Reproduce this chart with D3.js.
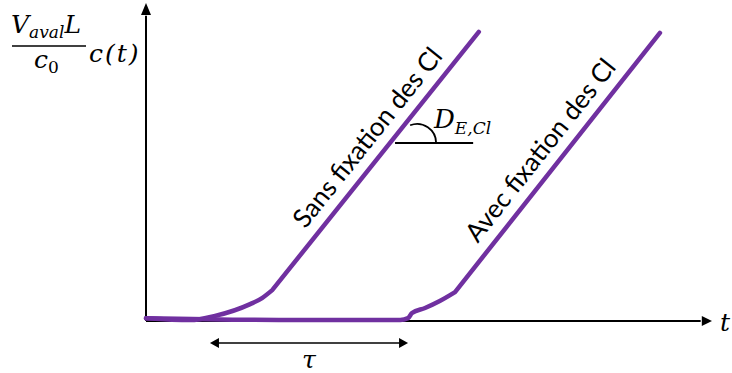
<!DOCTYPE html>
<head>
    <meta charset="utf-8">
    <style type="text/css">
        body { margin: 0; background: #ffffff; }
        .math { font-family: "DejaVu Serif", serif; font-style: italic; }
        .lbl { font-family: Lato, "Open Sans", sans-serif; }
    </style>
    <script src="https://d3js.org/d3.v7.min.js"></script>
</head>
<body>
    <div id="chart">
        <script>
            const width = 732, height = 373;

            // curve "Sans fixation des Cl" (data units)
            const sansX = [0, 0.78, 1.22, 1.84, 2.05, 2.23, 5.88];
            const sansY = [0.09, 0.03, 0.16, 0.53, 0.72, 0.97, 9.09];
            // curve "Avec fixation des Cl"
            const avecX = [0, 2.72, 4.49, 4.63, 4.70, 4.93, 5.19, 5.46, 9.08];
            const avecY = [0.09, 0.03, 0.03, 0.09, 0.25, 0.41, 0.63, 0.91, 9.06];
            const labels = ["Sans fixation des Cl", "Avec fixation des Cl"];
            // tau = delay between the two curves
            const tauRange = [1.13, 4.63];

            const purple = "#7030a0";

            const x = d3.scaleLinear().domain([0, 10]).range([146, 712]);
            const y = d3.scaleLinear().domain([0, 10]).range([321, 3]);

            const svg = d3.select("#chart")
                .append("svg")
                .attr("width", width)
                .attr("height", height);

            // axes
            svg.append("line")
                .attr("x1", x(0)).attr("y1", y(0))
                .attr("x2", x(0)).attr("y2", y(9.6))
                .attr("stroke", "#000").attr("stroke-width", 2);
            svg.append("path")
                .attr("d", `M${x(0)},${y(10)} L${x(0) - 5},${y(9.62)} L${x(0) + 5},${y(9.62)} Z`)
                .attr("fill", "#000");
            svg.append("line")
                .attr("x1", x(0)).attr("y1", y(0))
                .attr("x2", x(9.8)).attr("y2", y(0))
                .attr("stroke", "#000").attr("stroke-width", 2);
            svg.append("path")
                .attr("d", `M${x(10)},${y(0)} L${x(9.82)},${y(0) - 5} L${x(9.82)},${y(0) + 5} Z`)
                .attr("fill", "#000");

            svg.append("text").attr("class", "math")
                .attr("x", 720).attr("y", 331)
                .attr("font-size", 25).text("t");

            // y label: Vaval L / c0 * c(t)
            const yl = svg.append("g").attr("class", "math").attr("font-size", 25);
            const num = yl.append("text").attr("x", 11).attr("y", 33);
            num.append("tspan").text("V");
            num.append("tspan").attr("font-size", 17).attr("dy", 5).text("aval");
            num.append("tspan").attr("dy", -5).text("L");
            yl.append("line")
                .attr("x1", 12).attr("x2", 86).attr("y1", 46).attr("y2", 46)
                .attr("stroke", "#000").attr("stroke-width", 1.5);
            const den = yl.append("text").attr("x", 34).attr("y", 68);
            den.append("tspan").text("c");
            den.append("tspan").attr("font-size", 17).attr("font-style", "normal").attr("dy", 5).text("0");
            yl.append("text").attr("x", 89).attr("y", 62).attr("letter-spacing", 2).text("c(t)");

            // curves: smooth foot, then straight rise to the last point
            const foot = d3.line()
                .x(d => x(d[0]))
                .y(d => y(d[1]))
                .curve(d3.curveMonotoneX);
            const curvePath = c => {
                const last = c[c.length - 1];
                return foot(c.slice(0, -1)) + `L${x(last[0])},${y(last[1])}`;
            };

            const curves = [d3.zip(sansX, sansY), d3.zip(avecX, avecY)];
            svg.selectAll(".curve")
                .data(curves)
                .enter().append("path")
                .attr("class", "curve")
                .attr("d", curvePath)
                .attr("fill", "none")
                .attr("stroke", purple)
                .attr("stroke-width", 4.5)
                .attr("stroke-linejoin", "round")
                .attr("stroke-linecap", "round");

            // rotated labels along the straight part of each curve
            curves.forEach((c, i) => {
                const p0 = c[c.length - 2], p1 = c[c.length - 1];
                const ax = x(p0[0]), ay = y(p0[1]);
                const bx = x(p1[0]), by = y(p1[1]);
                const len = Math.hypot(bx - ax, by - ay);
                const ux = (bx - ax) / len, uy = (by - ay) / len;
                const along = i == 0 ? 68 : 52, off = 12;
                const tx = ax + ux * along + uy * off;
                const ty = ay + uy * along - ux * off;
                const ang = Math.atan2(by - ay, bx - ax) * 180 / Math.PI;
                svg.append("text").attr("class", "lbl")
                    .attr("font-size", 26)
                    .attr("transform", `translate(${tx},${ty}) rotate(${ang})`)
                    .text(labels[i]);
            });

            // slope annotation D_E,Cl
            const ay0 = y(5.6);
            svg.append("line")
                .attr("x1", x(4.4)).attr("x2", x(5.78))
                .attr("y1", ay0).attr("y2", ay0)
                .attr("stroke", "#000").attr("stroke-width", 2);
            const arc = d3.arc()
                .innerRadius(19).outerRadius(19)
                .startAngle(Math.PI / 2).endAngle(-0.12 * Math.PI);
            svg.append("path")
                .attr("transform", `translate(${x(4.79)},${ay0})`)
                .attr("d", arc())
                .attr("fill", "none")
                .attr("stroke", "#000").attr("stroke-width", 1.8);
            const dl = svg.append("text").attr("class", "math")
                .attr("x", 434).attr("y", 128).attr("font-size", 26);
            dl.append("tspan").text("D");
            dl.append("tspan").attr("font-size", 17).attr("dy", 6).text("E,Cl");

            // tau double arrow
            const ty0 = 343;
            svg.append("line")
                .attr("x1", x(tauRange[0]) + 6).attr("x2", x(tauRange[1]) - 6)
                .attr("y1", ty0).attr("y2", ty0)
                .attr("stroke", "#000").attr("stroke-width", 1.3);
            svg.append("path")
                .attr("d", `M${x(tauRange[0])},${ty0} l9,-5 l0,10 Z M${x(tauRange[1])},${ty0} l-9,-5 l0,10 Z`)
                .attr("fill", "#000");
            svg.append("text").attr("class", "math")
                .attr("x", (x(tauRange[0]) + x(tauRange[1])) / 2)
                .attr("y", 368).attr("text-anchor", "middle")
                .attr("font-size", 25).text("τ");
        </script>
    </div>
</body>
